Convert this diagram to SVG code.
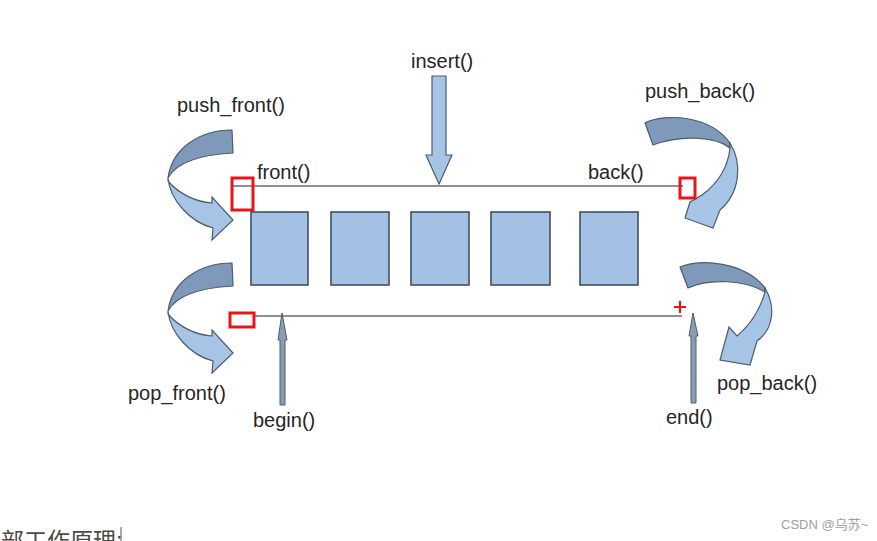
<svg xmlns="http://www.w3.org/2000/svg" width="877" height="541" viewBox="0 0 877 541">
<style>
.lbl{font-family:"Liberation Sans",Arial,sans-serif;font-size:20px;fill:#262626}
.box{fill:#a3c1e4;stroke:#3f4f62;stroke-width:1.6}
.dark{fill:#7e99b9;stroke:#4c5b6e;stroke-width:1.2}
.light{fill:#a6c4e6;stroke:#4c5b6e;stroke-width:1.2}
.red{fill:none;stroke:#e8141b;stroke-width:3}
.ln{stroke:#6b6b6b;stroke-width:1.5;fill:none}
.thin{fill:#8c9db3;stroke:#4e5a6a;stroke-width:1}
</style>
<rect width="877" height="541" fill="#ffffff"/>
<g id="connectors">
<line class="ln" x1="233" y1="186" x2="683" y2="186"/>
<line class="ln" x1="254" y1="316" x2="682" y2="316"/>
<path id="insert-arrow" class="light" d="M432,76 L446,76 L446,155 L452,155 L439,184 L426,155 L432,155 Z"/>
<path id="begin-arrow" class="thin" d="M280,340 L278,340 L282,313 L287,340 L285,340 L285,405 L280,405 Z"/>
<path id="end-arrow" class="thin" d="M691,336 L689,336 L693,313 L698,336 L696,336 L696,403 L691,403 Z"/>
</g>
<g id="push_front">
<path class="dark" d="M232,130 C200,130 172,148 168,178 C175,165 195,155 233,153 Z"/>
<path class="light" d="M168,178 C170,200 190,222 213,228 L212,240 L233,220 L212,197 L212,203 C195,202 178,193 168,181 Z"/>
<text class="lbl" x="177" y="112">push_front()</text>
</g>
<g id="pop_front">
<g transform="translate(0,133)">
<path class="dark" d="M232,130 C200,130 172,148 168,178 C175,165 195,155 233,153 Z"/>
<path class="light" d="M168,178 C170,200 190,222 213,228 L212,240 L233,220 L212,197 L212,203 C195,202 178,193 168,181 Z"/>
</g>
<text class="lbl" x="128" y="400">pop_front()</text>
</g>
<g id="push_back">
<path class="dark" d="M645,123 C665,113 710,115 730,143 L730,148 C715,136 680,135 653,145 Z"/>
<path class="light" d="M730,143 C742,162 741,192 720,210 L713,228 L685,218 L690,202 L702,195 C718,183 728,168 730,148 Z"/>
<text class="lbl" x="645" y="98">push_back()</text>
</g>
<g id="pop_back">
<path class="dark" d="M680,267 C700,258 745,262 765,288 L765,292 C745,280 710,278 688,288 Z"/>
<path class="light" d="M765,288 C775,305 775,328 757,341 L750,365 L720,360 L729,327 L737,336 C750,325 760,310 765,292 Z"/>
<text class="lbl" x="717" y="390">pop_back()</text>
</g>
<g id="insert">
<text class="lbl" x="411" y="68">insert()</text>
</g>
<g id="front">
<rect class="red" x="232" y="178" width="21" height="32"/>
<text class="lbl" x="257" y="179">front()</text>
</g>
<g id="back">
<rect class="red" x="680" y="178" width="15" height="20"/>
<text class="lbl" x="588" y="179">back()</text>
</g>
<g id="begin">
<rect class="red" x="230" y="313" width="24" height="14"/>
<text class="lbl" x="253" y="427">begin()</text>
</g>
<g id="end">
<path d="M674,307 L686,307 M680,301 L680,313" stroke="#e8141b" stroke-width="2.2" fill="none"/>
<text class="lbl" x="666" y="424">end()</text>
</g>
<g id="elements">
<rect class="box" x="251" y="212" width="57" height="73"/>
<rect class="box" x="331" y="212" width="58" height="73"/>
<rect class="box" x="411" y="212" width="58" height="73"/>
<rect class="box" x="491" y="212" width="59" height="73"/>
<rect class="box" x="580" y="212" width="58" height="73"/>
</g>
<text x="1" y="549" style="font-family:'Liberation Sans','Noto Sans CJK SC',sans-serif;font-size:23px;fill:#4a4a4a">部工作原理:</text>
<line x1="121" y1="527" x2="121" y2="541" stroke="#555" stroke-width="1"/>
<text x="781" y="529" style="font-family:'Liberation Sans','Noto Sans CJK SC',sans-serif;font-size:13px;fill:#a0a0a0">CSDN @乌苏~</text>
</svg>
